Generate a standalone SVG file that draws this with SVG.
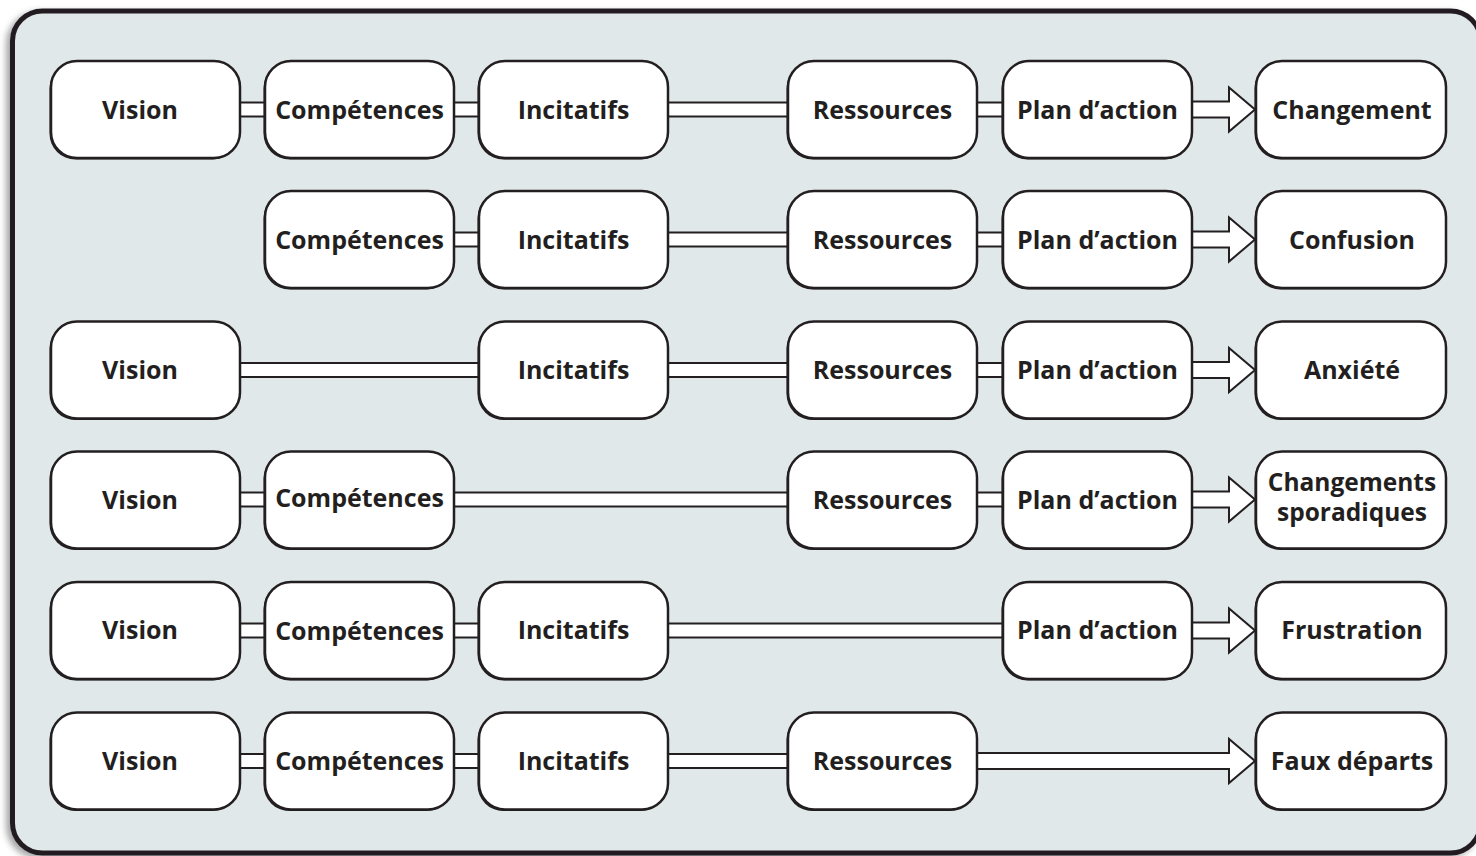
<svg xmlns="http://www.w3.org/2000/svg" xmlns:xlink="http://www.w3.org/1999/xlink" width="1476" height="856" viewBox="0 0 1476 856">
<style>
.panel{fill:#e1e8ea;stroke:#231f20;stroke-width:5}
.bx{fill:#ffffff;stroke:#231f20;stroke-width:2.5}
.sh{fill:#231f20}
.cn{fill:#ffffff;stroke:#231f20;stroke-width:2}
.ar{fill:#ffffff;stroke:#231f20;stroke-width:2;stroke-linejoin:miter}
text{font-family:"Open Sans","Noto Sans","DejaVu Sans",sans-serif;font-weight:700;font-size:25px;fill:#231f20;text-anchor:middle}
text.two{font-size:24.5px}
</style>
<defs>
<filter id="psh" x="-5%" y="-5%" width="110%" height="110%">
<feDropShadow dx="-4" dy="3" stdDeviation="3" flood-color="#000" flood-opacity="0.35"/>
</filter>
</defs>
<rect width="1476" height="856" fill="#ffffff"/>
<rect class="panel" x="12.5" y="11" width="1468" height="842" rx="30" filter="url(#psh)"/>

<g id="connectors">
<!-- row 1, c=109.5 -->
<rect class="cn" x="238" y="102.5" width="29" height="14"/>
<rect class="cn" x="451" y="102.5" width="30" height="14"/>
<rect class="cn" x="666" y="102.5" width="124" height="14"/>
<rect class="cn" x="975" y="102.5" width="30" height="14"/>
<polygon class="ar" points="1189,101.5 1229,101.5 1229,87.5 1255,109.5 1229,131.5 1229,117.5 1189,117.5"/>
<!-- row 2, c=239.5 -->
<rect class="cn" x="451" y="232.5" width="30" height="14"/>
<rect class="cn" x="666" y="232.5" width="124" height="14"/>
<rect class="cn" x="975" y="232.5" width="30" height="14"/>
<polygon class="ar" points="1189,231.5 1229,231.5 1229,217.5 1255,239.5 1229,261.5 1229,247.5 1189,247.5"/>
<!-- row 3, c=370 -->
<rect class="cn" x="238" y="363" width="243" height="14"/>
<rect class="cn" x="666" y="363" width="124" height="14"/>
<rect class="cn" x="975" y="363" width="30" height="14"/>
<polygon class="ar" points="1189,362 1229,362 1229,348 1255,370 1229,392 1229,378 1189,378"/>
<!-- row 4, c=500 -->
<rect class="cn" x="238" y="492.5" width="29" height="14"/>
<rect class="cn" x="451" y="492.5" width="339" height="14"/>
<rect class="cn" x="975" y="492.5" width="30" height="14"/>
<polygon class="ar" points="1189,491.5 1229,491.5 1229,477.5 1255,499.5 1229,521.5 1229,507.5 1189,507.5"/>
<!-- row 5, c=630.5 -->
<rect class="cn" x="238" y="623.5" width="29" height="14"/>
<rect class="cn" x="451" y="623.5" width="30" height="14"/>
<rect class="cn" x="666" y="623.5" width="339" height="14"/>
<polygon class="ar" points="1189,622.5 1229,622.5 1229,608.5 1255,630.5 1229,652.5 1229,638.5 1189,638.5"/>
<!-- row 6, c=761 -->
<rect class="cn" x="238" y="754" width="29" height="14"/>
<rect class="cn" x="451" y="754" width="30" height="14"/>
<rect class="cn" x="666" y="754" width="124" height="14"/>
<polygon class="ar" points="975,753 1229,753 1229,739 1255,761 1229,783 1229,769 975,769"/>
</g>

<!-- Row 1 -->
<g id="r1-vision"><rect class="sh" x="49.5" y="62.5" width="189" height="97" rx="26"/><rect class="bx" x="51" y="61" width="189" height="97" rx="26"/><text x="140" y="118.5">Vision</text></g>
<g id="r1-competences"><rect class="sh" x="263.5" y="62.5" width="189" height="97" rx="26"/><rect class="bx" x="265" y="61" width="189" height="97" rx="26"/><text x="359.5" y="118.5">Compétences</text></g>
<g id="r1-incitatifs"><rect class="sh" x="477.5" y="62.5" width="189" height="97" rx="26"/><rect class="bx" x="479" y="61" width="189" height="97" rx="26"/><text x="573.5" y="118.5">Incitatifs</text></g>
<g id="r1-ressources"><rect class="sh" x="786.5" y="62.5" width="189" height="97" rx="26"/><rect class="bx" x="788" y="61" width="189" height="97" rx="26"/><text x="882.5" y="118.5">Ressources</text></g>
<g id="r1-plan"><rect class="sh" x="1001.5" y="62.5" width="189" height="97" rx="26"/><rect class="bx" x="1003" y="61" width="189" height="97" rx="26"/><text x="1097.5" y="118.5">Plan d’action</text></g>
<g id="r1-changement"><rect class="sh" x="1254.5" y="62.5" width="190" height="97" rx="26"/><rect class="bx" x="1256" y="61" width="190" height="97" rx="26"/><text x="1352" y="118.5">Changement</text></g>

<!-- Row 2 -->
<g id="r2-competences"><rect class="sh" x="263.5" y="192.5" width="189" height="97" rx="26"/><rect class="bx" x="265" y="191" width="189" height="97" rx="26"/><text x="359.5" y="248.5">Compétences</text></g>
<g id="r2-incitatifs"><rect class="sh" x="477.5" y="192.5" width="189" height="97" rx="26"/><rect class="bx" x="479" y="191" width="189" height="97" rx="26"/><text x="573.5" y="248.5">Incitatifs</text></g>
<g id="r2-ressources"><rect class="sh" x="786.5" y="192.5" width="189" height="97" rx="26"/><rect class="bx" x="788" y="191" width="189" height="97" rx="26"/><text x="882.5" y="248.5">Ressources</text></g>
<g id="r2-plan"><rect class="sh" x="1001.5" y="192.5" width="189" height="97" rx="26"/><rect class="bx" x="1003" y="191" width="189" height="97" rx="26"/><text x="1097.5" y="248.5">Plan d’action</text></g>
<g id="r2-confusion"><rect class="sh" x="1254.5" y="192.5" width="190" height="97" rx="26"/><rect class="bx" x="1256" y="191" width="190" height="97" rx="26"/><text x="1352" y="248.5">Confusion</text></g>

<!-- Row 3 -->
<g id="r3-vision"><rect class="sh" x="49.5" y="323" width="189" height="97" rx="26"/><rect class="bx" x="51" y="321.5" width="189" height="97" rx="26"/><text x="140" y="379">Vision</text></g>
<g id="r3-incitatifs"><rect class="sh" x="477.5" y="323" width="189" height="97" rx="26"/><rect class="bx" x="479" y="321.5" width="189" height="97" rx="26"/><text x="573.5" y="379">Incitatifs</text></g>
<g id="r3-ressources"><rect class="sh" x="786.5" y="323" width="189" height="97" rx="26"/><rect class="bx" x="788" y="321.5" width="189" height="97" rx="26"/><text x="882.5" y="379">Ressources</text></g>
<g id="r3-plan"><rect class="sh" x="1001.5" y="323" width="189" height="97" rx="26"/><rect class="bx" x="1003" y="321.5" width="189" height="97" rx="26"/><text x="1097.5" y="379">Plan d’action</text></g>
<g id="r3-anxiete"><rect class="sh" x="1254.5" y="323" width="190" height="97" rx="26"/><rect class="bx" x="1256" y="321.5" width="190" height="97" rx="26"/><text x="1352" y="379">Anxiété</text></g>

<!-- Row 4 -->
<g id="r4-vision"><rect class="sh" x="49.5" y="453" width="189" height="97" rx="26"/><rect class="bx" x="51" y="451.5" width="189" height="97" rx="26"/><text x="140" y="508.5">Vision</text></g>
<g id="r4-competences"><rect class="sh" x="263.5" y="453" width="189" height="97" rx="26"/><rect class="bx" x="265" y="451.5" width="189" height="97" rx="26"/><text x="359.5" y="507">Compétences</text></g>
<g id="r4-ressources"><rect class="sh" x="786.5" y="453" width="189" height="97" rx="26"/><rect class="bx" x="788" y="451.5" width="189" height="97" rx="26"/><text x="882.5" y="508.5">Ressources</text></g>
<g id="r4-plan"><rect class="sh" x="1001.5" y="453" width="189" height="97" rx="26"/><rect class="bx" x="1003" y="451.5" width="189" height="97" rx="26"/><text x="1097.5" y="508.5">Plan d’action</text></g>
<g id="r4-sporadiques"><rect class="sh" x="1254.5" y="453" width="190" height="97" rx="26"/><rect class="bx" x="1256" y="451.5" width="190" height="97" rx="26"/><text class="two" x="1352" y="490.5">Changements</text><text class="two" x="1352" y="520.5">sporadiques</text></g>

<!-- Row 5 -->
<g id="r5-vision"><rect class="sh" x="49.5" y="583.5" width="189" height="97" rx="26"/><rect class="bx" x="51" y="582" width="189" height="97" rx="26"/><text x="140" y="639">Vision</text></g>
<g id="r5-competences"><rect class="sh" x="263.5" y="583.5" width="189" height="97" rx="26"/><rect class="bx" x="265" y="582" width="189" height="97" rx="26"/><text x="359.5" y="640">Compétences</text></g>
<g id="r5-incitatifs"><rect class="sh" x="477.5" y="583.5" width="189" height="97" rx="26"/><rect class="bx" x="479" y="582" width="189" height="97" rx="26"/><text x="573.5" y="639">Incitatifs</text></g>
<g id="r5-plan"><rect class="sh" x="1001.5" y="583.5" width="189" height="97" rx="26"/><rect class="bx" x="1003" y="582" width="189" height="97" rx="26"/><text x="1097.5" y="639">Plan d’action</text></g>
<g id="r5-frustration"><rect class="sh" x="1254.5" y="583.5" width="190" height="97" rx="26"/><rect class="bx" x="1256" y="582" width="190" height="97" rx="26"/><text x="1352" y="639">Frustration</text></g>

<!-- Row 6 -->
<g id="r6-vision"><rect class="sh" x="49.5" y="714" width="189" height="97" rx="26"/><rect class="bx" x="51" y="712.5" width="189" height="97" rx="26"/><text x="140" y="770">Vision</text></g>
<g id="r6-competences"><rect class="sh" x="263.5" y="714" width="189" height="97" rx="26"/><rect class="bx" x="265" y="712.5" width="189" height="97" rx="26"/><text x="359.5" y="770">Compétences</text></g>
<g id="r6-incitatifs"><rect class="sh" x="477.5" y="714" width="189" height="97" rx="26"/><rect class="bx" x="479" y="712.5" width="189" height="97" rx="26"/><text x="573.5" y="770">Incitatifs</text></g>
<g id="r6-ressources"><rect class="sh" x="786.5" y="714" width="189" height="97" rx="26"/><rect class="bx" x="788" y="712.5" width="189" height="97" rx="26"/><text x="882.5" y="770">Ressources</text></g>
<g id="r6-faux"><rect class="sh" x="1254.5" y="714" width="190" height="97" rx="26"/><rect class="bx" x="1256" y="712.5" width="190" height="97" rx="26"/><text x="1352" y="770">Faux départs</text></g>
</svg>
